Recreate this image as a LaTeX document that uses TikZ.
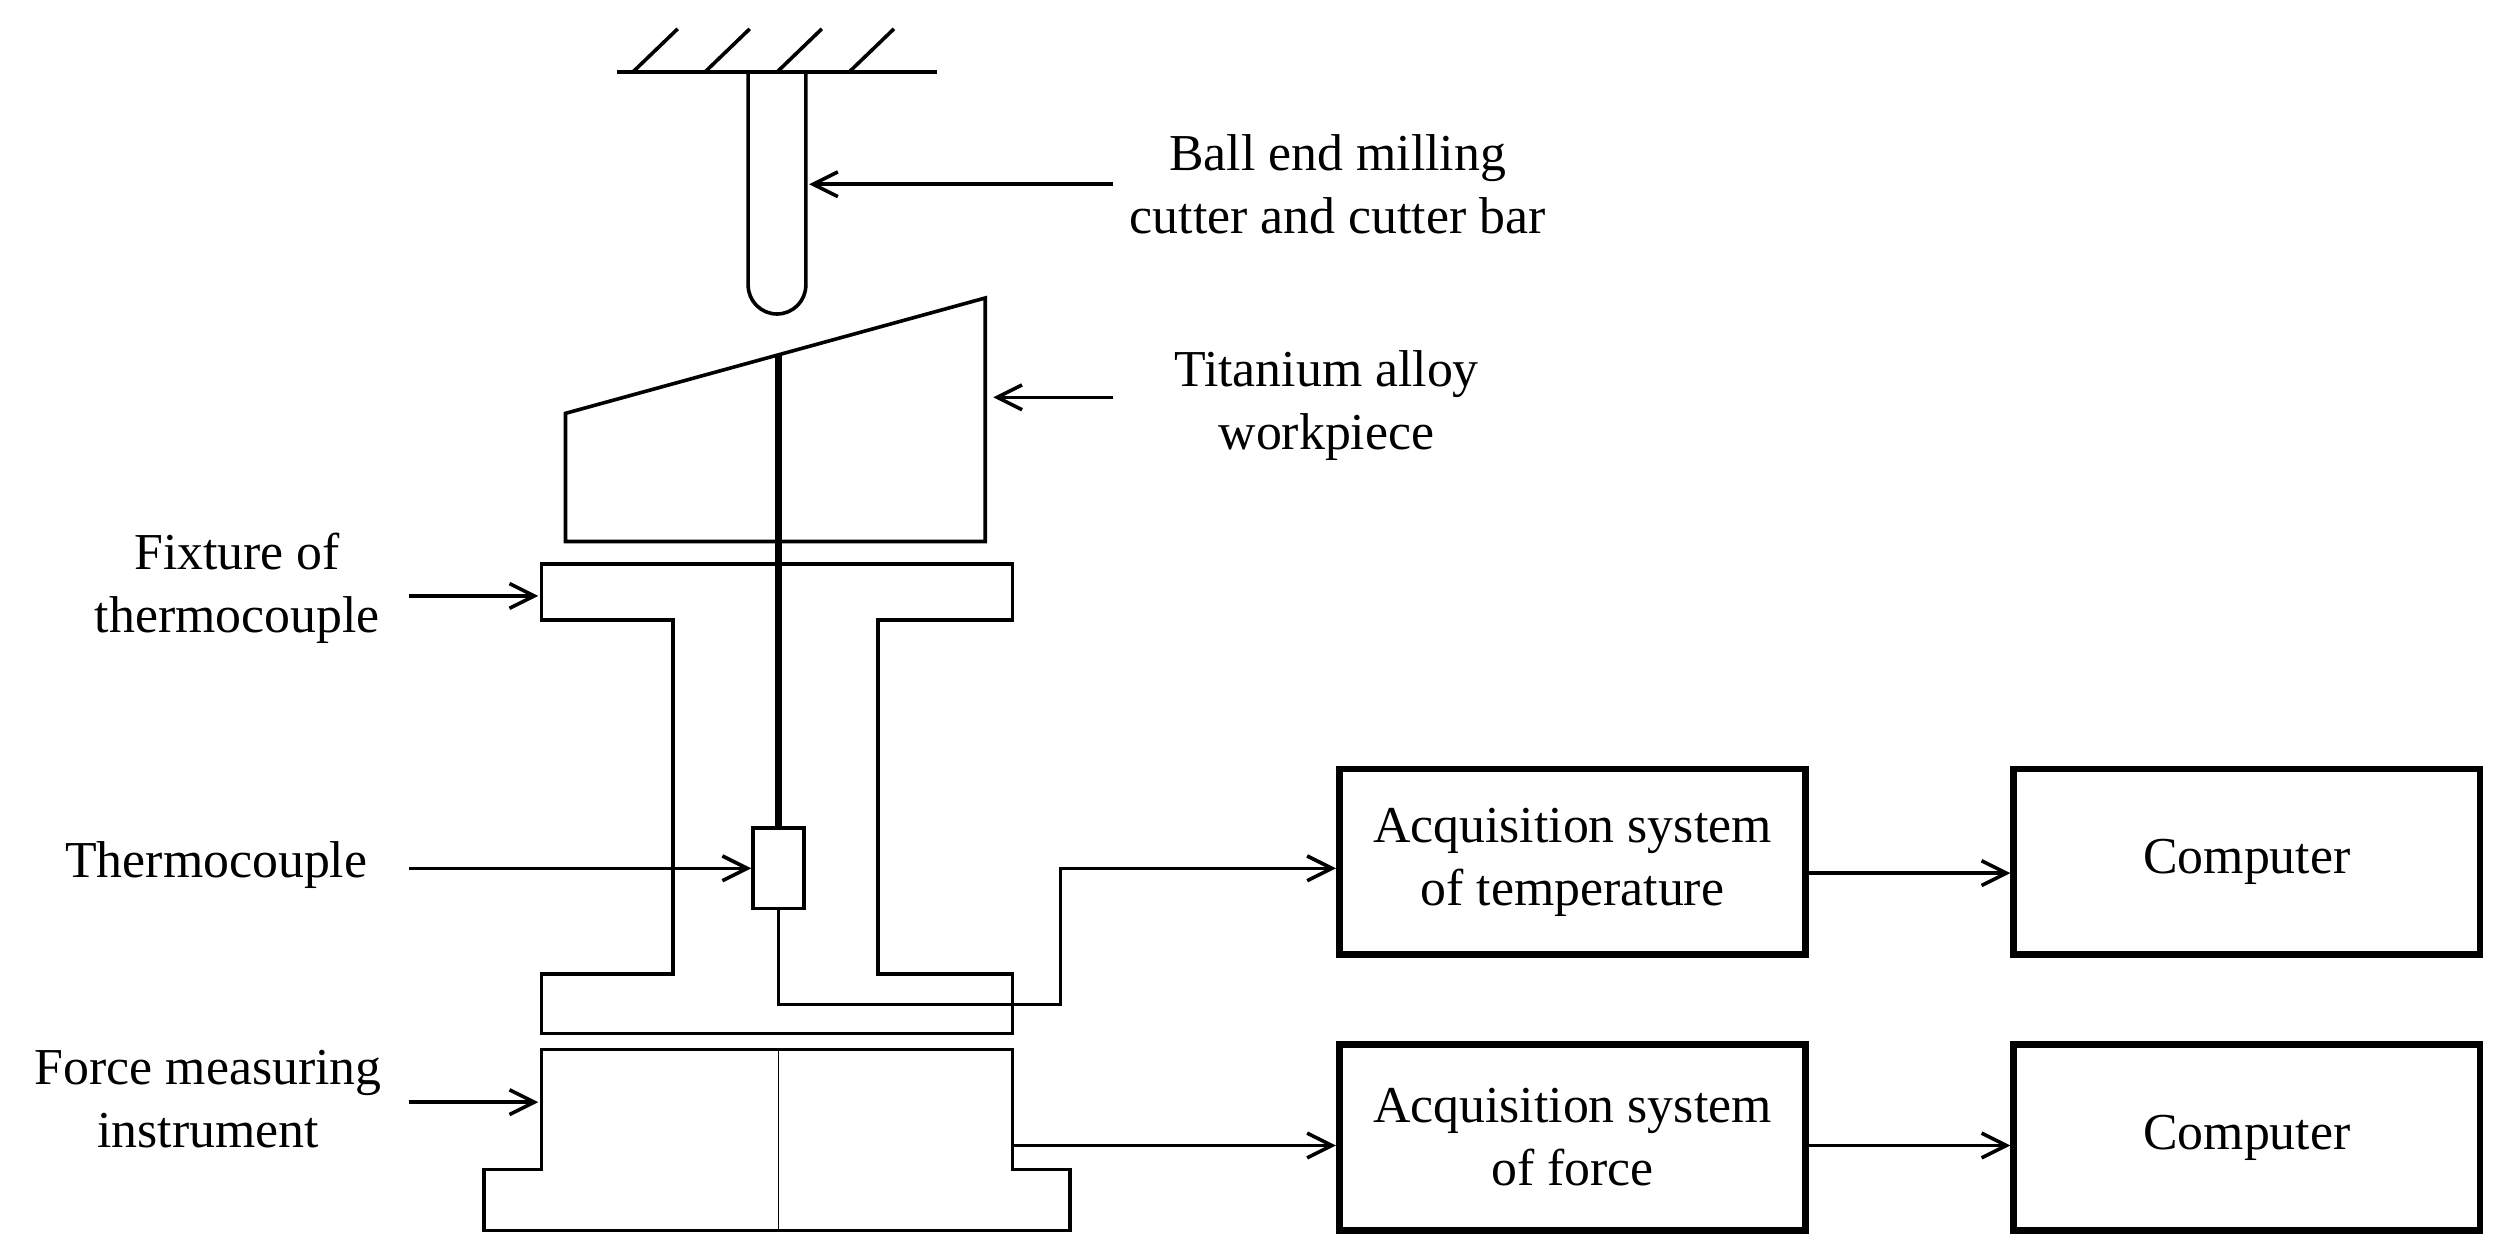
\documentclass[tikz,border=0pt]{standalone}
\usepackage{fontspec}
\setmainfont{Liberation Serif}
\usetikzlibrary{arrows.meta}
\begin{document}
\begin{tikzpicture}[x=0.05cm,y=-0.05cm,
  thin line/.style={line width=3.2pt},
  thick line/.style={line width=6pt},
  arr/.style={thin line,-{Straight Barb[length=22pt,width=22pt,line width=3.2pt]}},
  lab/.style={font=\fontsize{46}{56}\selectfont,align=center,inner sep=0pt},
  box/.style={draw,line width=6pt,minimum width=291*0.05cm,minimum height=116*0.05cm,font=\fontsize{46}{56}\selectfont,align=center}]
\useasboundingbox (0,0) rectangle (1568,785);
% ceiling
\draw[thin line] (385,45) -- (585,45);
\foreach \x in {395,440,485,530} \draw[thin line] (\x,45) -- (\x+28,18);
% cutter
\draw[thin line] (467,45) -- (467,178) arc[start angle=180,end angle=0,radius=18] -- (503,45);
\coordinate (cutR) at (505,115);
\coordinate (cutL) at (695,115);
\draw[arr] (cutL) -- (cutR);
\node[lab] (lcut) at (835,115) {Ball end milling\\cutter and cutter bar};
% workpiece
\draw[thin line] (353,258) -- (615,186) -- (615,338) -- (353,338) -- cycle;
\coordinate (wpR) at (620,248);
\coordinate (wpL) at (695,248);
\draw[arr] (wpL) -- (wpR);
\node[lab] (lwp) at (828,253) {Titanium alloy\\workpiece};
% fixture
\draw[thin line] (338,352) -- (632,352) -- (632,387) -- (548,387) -- (548,608) -- (632,608) -- (632,645) -- (338,645) -- (338,608) -- (420,608) -- (420,387) -- (338,387) -- cycle;
\coordinate (fxA) at (255,372);
\coordinate (fxB) at (336,372);
\draw[arr] (fxA) -- (fxB);
\node[lab] (lfx) at (148,367) {Fixture of\\thermocouple};
% thermocouple
\draw[thick line] (486,222) -- (486,517);
\node[draw,thin line,minimum width=32*0.05cm,minimum height=50*0.05cm,inner sep=0pt] (tc) at (486,542) {};
\coordinate (tcA) at (255,542);
\draw[arr] (tcA) -- (tc.west);
\node[lab] (ltc) at (135,540) {Thermocouple};
% force instrument
\draw[thin line] (338,655) -- (632,655) -- (632,730) -- (668,730) -- (668,768) -- (302,768) -- (302,730) -- (338,730) -- cycle;
\draw[line width=1.2pt] (486,655) -- (486,768);
\coordinate (fmA) at (255,688);
\coordinate (fmB) at (336,688);
\draw[arr] (fmA) -- (fmB);
\node[lab] (lfm) at (130,686) {Force measuring\\instrument};
% boxes
\node[box] (at) at (981.5,538) {Acquisition system\\of temperature};
\node[box] (af) at (981.5,710) {Acquisition system\\of force};
\node[box] (c1) at (1402.5,538) {Computer};
\node[box] (c2) at (1402.5,710) {Computer};
\coordinate (w1) at (486,627);
\coordinate (w2) at (662,627);
\coordinate (w3) at (662,542);
\draw[arr] (tc.south) -- (w1) -- (w2) -- (w3) -- (at.west |- w3);
\coordinate (fo) at (632,715);
\draw[arr] (fo) -- (af.west |- fo);
\draw[arr] (at.east |- 0,545) -- (c1.west |- 0,545);
\draw[arr] (af.east |- fo) -- (c2.west |- fo);
\end{tikzpicture}
\end{document}
